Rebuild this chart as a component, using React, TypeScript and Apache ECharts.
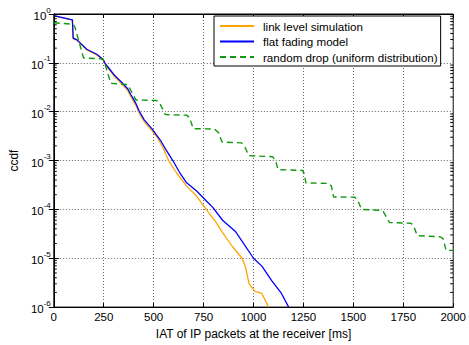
import React, { useEffect, useRef } from "react";
import * as echarts from "echarts";

const FONT = "'Liberation Sans', Arial, sans-serif";

// IAT (ms) and ccdf values
const linkLevelX = [0, 93, 97, 116, 165, 215, 248, 255, 280, 305, 337, 370, 387, 411, 428, 452, 493, 518, 550, 575, 616, 665, 714, 763, 812, 840, 894, 943, 960, 978, 1007, 1042, 1075];
const linkLevelY = [0.92, 0.75, 0.31, 0.29, 0.185, 0.145, 0.112, 0.097, 0.07, 0.052, 0.038, 0.027, 0.02, 0.0135, 0.0093, 0.0063, 0.004, 0.003, 0.0017, 0.001, 0.00055, 0.0003, 0.00019, 0.0001, 0.000055, 0.000036, 0.0000174, 0.00001, 0.0000066, 0.000003, 0.0000021, 0.0000019, 0.000001];

const flatFadingX = [0, 93, 97, 116, 165, 215, 248, 255, 280, 305, 337, 370, 387, 411, 428, 452, 493, 510, 534, 559, 596, 632, 665, 714, 763, 796, 845, 911, 1000, 1042, 1091, 1140, 1176];
const flatFadingY = [0.93, 0.76, 0.32, 0.295, 0.19, 0.15, 0.117, 0.1, 0.074, 0.055, 0.041, 0.0295, 0.022, 0.0148, 0.0102, 0.0069, 0.0044, 0.0035, 0.0026, 0.00174, 0.001, 0.00055, 0.00035, 0.00024, 0.00015, 0.00011, 0.00006, 0.0000347, 0.00001, 0.0000069, 0.0000035, 0.0000019, 0.000001];

const randomDropX = [0, 95, 105, 149, 245, 255, 285, 370, 380, 411, 515, 530, 559, 665, 680, 698, 805, 825, 842, 940, 955, 976, 1095, 1110, 1123, 1245, 1255, 1262, 1378, 1390, 1401, 1505, 1520, 1541, 1631, 1650, 1681, 1787, 1800, 1820, 1935, 1950, 1964, 2000];
const randomDropY = [0.66, 0.62, 0.55, 0.126, 0.12, 0.1, 0.038, 0.036, 0.03, 0.0174, 0.017, 0.015, 0.0087, 0.0085, 0.0075, 0.0045, 0.0044, 0.0037, 0.0024, 0.0023, 0.002, 0.00126, 0.0012, 0.001, 0.00065, 0.00063, 0.00053, 0.00035, 0.00034, 0.0003, 0.00018, 0.000178, 0.00016, 0.0001, 0.000096, 0.00009, 0.000054, 0.000052, 0.000048, 0.000029, 0.0000275, 0.000025, 0.0000145, 0.0000145];

const seriesNames = ["link level simulation", "flat fading model", "random drop (uniform distribution)"];

const xMin = 0;
const xMax = 2000;
const xInterval = 250;
const yMin = 1e-6;
const yMax = 1;

const zip = (xs: number[], ys: number[]) => xs.map((x, i) => [x, ys[i]]);

const minorTicks: number[][] = [];
for (let e = -6; e < 0; e++) {
  for (let m = 2; m <= 9; m++) minorTicks.push([0, m * Math.pow(10, e)]);
}

export default function App() {
  const ref = useRef<HTMLDivElement>(null);
  useEffect(() => {
    document.body.style.margin = "0";
    const chart = echarts.init(ref.current!, null, { renderer: "svg" });
    const tickRich = {
      b: { fontSize: 11.5, fontFamily: FONT, color: "#000", lineHeight: 16, verticalAlign: "bottom" },
      s: { fontSize: 8, fontFamily: FONT, color: "#000", lineHeight: 10, verticalAlign: "top" },
    };
    chart.setOption({
      animation: false,
      textStyle: { fontFamily: FONT },
      grid: { left: 48, right: 14, top: 14, bottom: 31, show: true, borderColor: "#000", borderWidth: 1, backgroundColor: "#fff" },
      legend: {
        data: seriesNames,
        left: 214,
        top: 16,
        orient: "vertical",
        backgroundColor: "#fff",
        borderColor: "#000",
        borderWidth: 1,
        borderRadius: 0,
        padding: [4, 3, 3, 5],
        itemGap: 3.5,
        itemWidth: 34,
        itemHeight: 12,
        itemStyle: { opacity: 0 },
        textStyle: { fontSize: 11.6, fontFamily: FONT, color: "#000", padding: [0, 0, 0, 4] },
      },
      xAxis: [
        {
          type: "value",
          min: xMin,
          max: xMax,
          interval: xInterval,
          name: "IAT of IP packets at the receiver [ms]",
          nameLocation: "middle",
          nameGap: 18,
          nameTextStyle: { fontSize: 12, color: "#000", fontFamily: FONT },
          axisLine: { lineStyle: { color: "#000", width: 1 } },
          axisTick: { inside: true, length: 4, lineStyle: { color: "#000" } },
          axisLabel: { fontSize: 11.5, color: "#000", margin: 4, fontFamily: FONT, formatter: (v: number) => String(v) },
          splitLine: { show: true, lineStyle: { color: "#666", type: [1, 2], width: 1 } },
        },
        {
          type: "value",
          position: "top",
          min: xMin,
          max: xMax,
          interval: xInterval,
          axisLine: { lineStyle: { color: "#000", width: 1 } },
          axisTick: { inside: true, length: 4, lineStyle: { color: "#000" } },
          axisLabel: { show: false },
          splitLine: { show: false },
        },
      ],
      yAxis: [
        {
          type: "log",
          logBase: 10,
          min: yMin,
          max: yMax,
          splitNumber: 6,
          name: "ccdf",
          nameLocation: "middle",
          nameGap: 28,
          nameTextStyle: { fontSize: 12, color: "#000", fontFamily: FONT },
          axisLine: { lineStyle: { color: "#000", width: 1 } },
          axisTick: { inside: true, length: 5, lineStyle: { color: "#000" } },
          axisLabel: {
            margin: 3,
            formatter: (v: number) => "{b|10}{s|" + Math.round(Math.log10(v)) + "}",
            rich: tickRich,
          },
          splitLine: { show: true, lineStyle: { color: "#666", type: [1, 2], width: 1 } },
        },
        {
          type: "log",
          logBase: 10,
          min: yMin,
          max: yMax,
          splitNumber: 6,
          position: "right",
          axisLine: { lineStyle: { color: "#000", width: 1 } },
          axisTick: { inside: true, length: 5, lineStyle: { color: "#000" } },
          axisLabel: { show: false },
          splitLine: { show: false },
        },
      ],
      series: [
        {
          name: seriesNames[0],
          type: "line",
          data: zip(linkLevelX, linkLevelY),
          symbol: "none",
          lineStyle: { color: "#FFA500", width: 1.3 },
          itemStyle: { color: "#FFA500" },
        },
        {
          name: seriesNames[1],
          type: "line",
          data: zip(flatFadingX, flatFadingY),
          symbol: "none",
          lineStyle: { color: "#0000FF", width: 1.3 },
          itemStyle: { color: "#0000FF" },
        },
        {
          name: seriesNames[2],
          type: "line",
          data: zip(randomDropX, randomDropY),
          symbol: "none",
          lineStyle: { color: "#119911", width: 1.4, type: [6, 4] },
          itemStyle: { color: "#119911" },
        },
        {
          name: "minor",
          type: "custom",
          silent: true,
          clip: false,
          z: 10,
          data: minorTicks,
          encode: { x: 0, y: 1 },
          renderItem: (_p: any, api: any) => {
            const v = api.value(1);
            const l = api.coord([xMin, v]);
            const r = api.coord([xMax, v]);
            return {
              type: "group",
              children: [
                { type: "line", shape: { x1: l[0], y1: l[1], x2: l[0] + 3, y2: l[1] }, style: { stroke: "#000", lineWidth: 1 } },
                { type: "line", shape: { x1: r[0] - 3, y1: r[1], x2: r[0], y2: r[1] }, style: { stroke: "#000", lineWidth: 1 } },
              ],
            };
          },
        },
      ],
    });
    return () => chart.dispose();
  }, []);
  return <div ref={ref} style={{ width: 469, height: 345 }} />;
}
